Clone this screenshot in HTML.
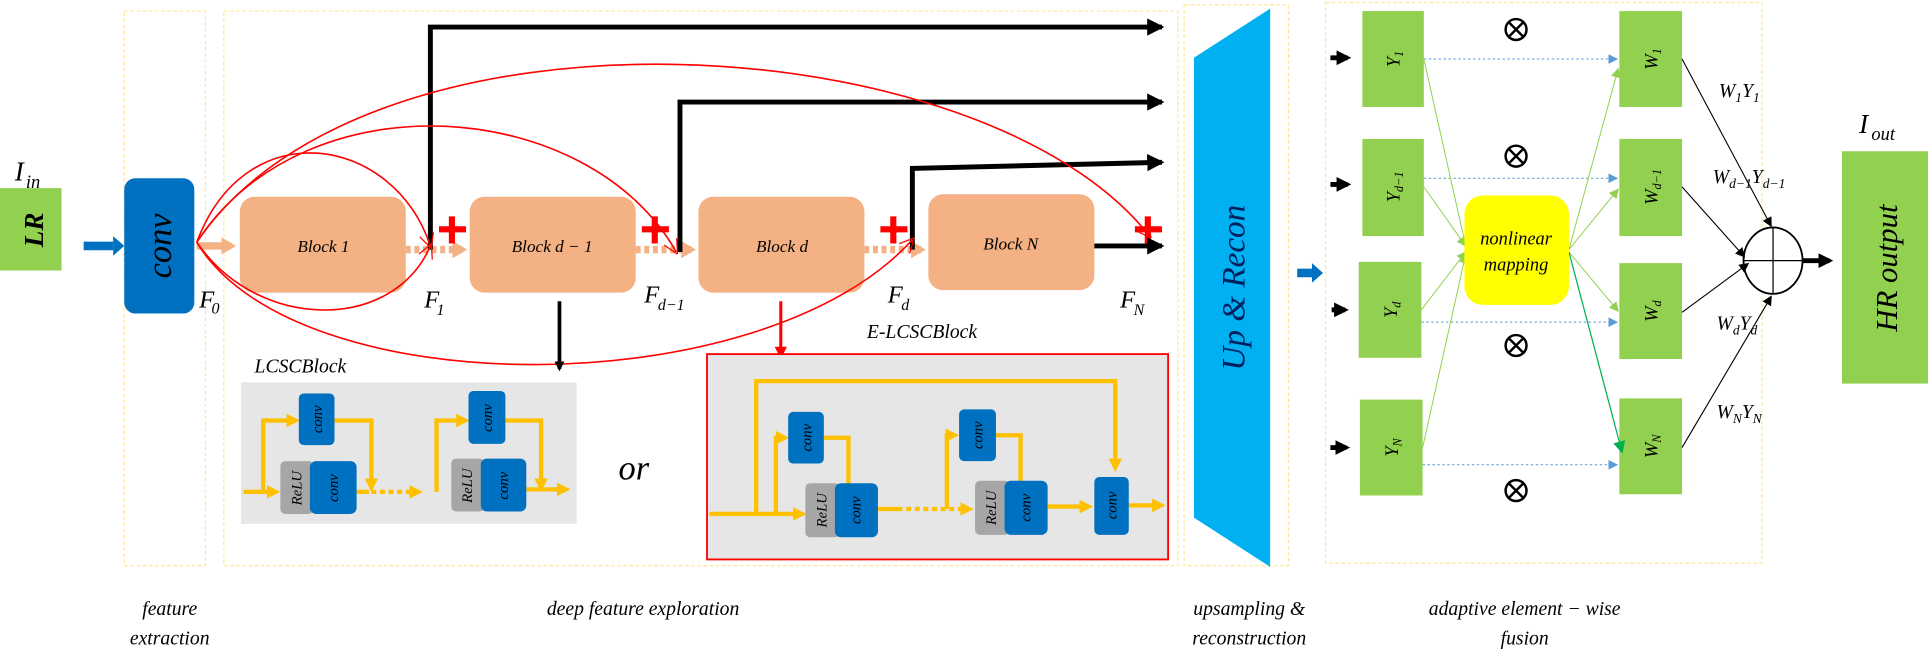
<!DOCTYPE html>
<html><head><meta charset="utf-8"><style>
html,body{margin:0;padding:0;background:#fff}
svg{display:block}
text{font-family:"Liberation Serif",serif;font-style:italic}
</style></head><body>
<svg width="1928" height="661" viewBox="0 0 1568 537.6" xmlns="http://www.w3.org/2000/svg">
<defs>
<marker id="ab" markerWidth="8" markerHeight="8" refX="6" refY="4" orient="auto" markerUnits="userSpaceOnUse"><path d="M0,0L8,4L0,8z" fill="#000"/></marker>
<marker id="ab2" markerWidth="12" markerHeight="12" refX="9" refY="6" orient="auto" markerUnits="userSpaceOnUse"><path d="M0,0L12,6L0,12z" fill="#000"/></marker>
<marker id="abig" markerWidth="14" markerHeight="14" refX="12" refY="7" orient="auto" markerUnits="userSpaceOnUse"><path d="M0,0L14,7L0,14z" fill="#000"/></marker>
<marker id="ar" markerWidth="12" markerHeight="12" refX="10" refY="6" orient="auto" markerUnits="userSpaceOnUse"><path d="M0,0L12,6L0,12" fill="none" stroke="#f00" stroke-width="1"/></marker>
<marker id="arf" markerWidth="10" markerHeight="10" refX="8" refY="5" orient="auto" markerUnits="userSpaceOnUse"><path d="M0,0L10,5L0,10z" fill="#f00"/></marker>
<marker id="ay" markerWidth="11" markerHeight="11" refX="7" refY="5.5" orient="auto" markerUnits="userSpaceOnUse"><path d="M0,0L11,5.5L0,11z" fill="#FFC000"/></marker>
<marker id="ao" markerWidth="12" markerHeight="14" refX="8" refY="7" orient="auto" markerUnits="userSpaceOnUse"><path d="M0,0L12,7L0,14z" fill="#F4B183"/></marker>
<marker id="abl" markerWidth="8" markerHeight="8" refX="7" refY="4" orient="auto" markerUnits="userSpaceOnUse"><path d="M0,0L8,4L0,8z" fill="#5B9BD5"/></marker>
<marker id="ag" markerWidth="8" markerHeight="8" refX="7" refY="4" orient="auto" markerUnits="userSpaceOnUse"><path d="M0,0L8,4L0,8z" fill="#92D050"/></marker>
<marker id="agd" markerWidth="10" markerHeight="10" refX="8" refY="5" orient="auto" markerUnits="userSpaceOnUse"><path d="M0,0L10,5L0,10z" fill="#00B050"/></marker>
<g id="otimes"><circle cx="0" cy="0" r="8.5" fill="none" stroke="#000" stroke-width="2"/><path d="M-6,-6L6,6M6,-6L-6,6" stroke="#000" stroke-width="2"/></g>
</defs>

<g fill="none" stroke="#FFE699" stroke-width="1" stroke-dasharray="3,2">
<rect x="101" y="9" width="66" height="451"/>
<rect x="182" y="9" width="776" height="451"/>
<rect x="963" y="4" width="85" height="456"/>
<rect x="1078" y="2" width="355" height="456"/>
</g>

<rect x="0" y="153" width="50" height="67" fill="#92D050"/>
<text transform="translate(35,187) rotate(-90)" font-size="22" font-weight="bold" text-anchor="middle">LR</text>
<text x="12" y="147" font-size="22">I</text><text x="21" y="153" font-size="15">in</text>
<path d="M68,200H92" stroke="#0070C0" stroke-width="7"/>
<path d="M92,192L101,200L92,208z" fill="#0070C0"/>
<rect x="101" y="145" width="57" height="110" rx="9" fill="#0070C0"/>
<text transform="translate(139,200) rotate(-90)" font-size="28" text-anchor="middle" fill="#000">conv</text>
<text x="162" y="250" font-size="20">F</text><text x="172" y="255" font-size="13">0</text>

<g fill="#F4B183">
<rect x="195" y="160" width="135" height="78" rx="12"/>
<rect x="382" y="160" width="135" height="78" rx="12"/>
<rect x="568" y="160" width="135" height="78" rx="12"/>
<rect x="755" y="158" width="135" height="78" rx="12"/>
</g>
<g font-size="14" text-anchor="middle">
<text x="263" y="205">Block 1</text>
<text x="449" y="205">Block d − 1</text>
<text x="636" y="205">Block d</text>
<text x="822" y="203">Block N</text>
</g>
<g stroke="#F4B183" stroke-width="6">
<path d="M160,200H188" marker-end="url(#ao)"/>
<path d="M330,203H376" stroke-dasharray="4,3" marker-end="url(#ao)"/>
<path d="M517,203H562" stroke-dasharray="4,3" marker-end="url(#ao)"/>
<path d="M703,203H749" stroke-dasharray="4,3" marker-end="url(#ao)"/>
</g>
<g font-size="20">
<text x="345" y="250">F</text><text x="355" y="256" font-size="13">1</text>
<text x="524" y="246">F</text><text x="535" y="252" font-size="13">d−1</text>
<text x="722" y="246">F</text><text x="733" y="252" font-size="13">d</text>
<text x="911" y="250">F</text><text x="922" y="256" font-size="13">N</text>
</g>
<g fill="#f00">
<rect x="357" y="184" width="22" height="5"/><rect x="365" y="176" width="5" height="22"/>
<rect x="522" y="184" width="22" height="5"/><rect x="530" y="176" width="5" height="22"/>
<rect x="716" y="184" width="22" height="5"/><rect x="724" y="176" width="5" height="22"/>
<rect x="923" y="184" width="22" height="5"/><rect x="931" y="176" width="5" height="22"/>
</g>

<g stroke="#000" stroke-width="4" fill="none">
<path d="M350,203V22H945" marker-end="url(#abig)"/>
<path d="M553,205V83H945" marker-end="url(#abig)"/>
<path d="M742,203V137L945,132" marker-end="url(#abig)"/>
<path d="M890,200H945" marker-end="url(#abig)"/>
</g>

<g stroke="#f00" stroke-width="1.3" fill="none">
<path d="M160,197C200,90 320,110 350,200" marker-end="url(#ar)"/>
<path d="M160,197C210,270 320,270 350,200" marker-end="url(#ar)"/>
<path d="M160,197C250,60 480,80 550,205" marker-end="url(#ar)"/>
<path d="M160,197C300,-10 800,20 935,192" marker-end="url(#ar)"/>
<path d="M160,197C240,330 620,330 742,195" marker-end="url(#ar)"/>
</g>

<path d="M455,245V300" stroke="#000" stroke-width="3" marker-end="url(#ab)"/>
<path d="M635,245V290" stroke="#f00" stroke-width="2.5" marker-end="url(#arf)"/>

<text x="705" y="275" font-size="16">E-LCSCBlock</text>
<text x="207" y="303" font-size="16">LCSCBlock</text>
<text x="503" y="390" font-size="28">or</text>

<rect x="196" y="311" width="273" height="115" fill="#E6E6E6"/>
<g stroke="#FFC000" stroke-width="3.5" fill="none">
<path d="M198,400H224" marker-end="url(#ay)"/>
<path d="M214,400V342H240" marker-end="url(#ay)"/>
<path d="M272,342H302V396" marker-end="url(#ay)"/>
<path d="M290,400H300"/>
<path d="M302,400H340" stroke-dasharray="4,3" marker-end="url(#ay)"/>
<path d="M355,400V342H378" marker-end="url(#ay)"/>
<path d="M411,342H440V396" marker-end="url(#ay)"/>
<path d="M428,398H460" marker-end="url(#ay)"/>
</g>
<rect x="243" y="320" width="29" height="42" rx="4" fill="#0070C0"/>
<rect x="228" y="375" width="27" height="43" rx="4" fill="#A6A6A6"/>
<rect x="252" y="375" width="38" height="43" rx="5" fill="#0070C0"/>
<rect x="381" y="318" width="30" height="43" rx="4" fill="#0070C0"/>
<rect x="367" y="373" width="27" height="43" rx="4" fill="#A6A6A6"/>
<rect x="391" y="373" width="37" height="43" rx="5" fill="#0070C0"/>
<g font-size="12" text-anchor="middle">
<text transform="translate(262,341) rotate(-90)">conv</text>
<text transform="translate(245,397) rotate(-90)">ReLU</text>
<text transform="translate(275,397) rotate(-90)">conv</text>
<text transform="translate(400,340) rotate(-90)">conv</text>
<text transform="translate(384,395) rotate(-90)">ReLU</text>
<text transform="translate(413,395) rotate(-90)">conv</text>
</g>

<rect x="575" y="288" width="375" height="167" fill="#E6E6E6" stroke="#f00" stroke-width="1.5"/>
<g stroke="#FFC000" stroke-width="3.5" fill="none">
<path d="M577,418H652" marker-end="url(#ay)"/>
<path d="M615,418V310H907V380" marker-end="url(#ay)"/>
<path d="M631,418V356H638" marker-end="url(#ay)"/>
<path d="M670,356H690V412" marker-end="url(#ay)"/>
<path d="M714,414H730"/>
<path d="M730,414H788" stroke-dasharray="4,3" marker-end="url(#ay)"/>
<path d="M770,414V354H776" marker-end="url(#ay)"/>
<path d="M810,354H830V406" marker-end="url(#ay)"/>
<path d="M852,412H885" marker-end="url(#ay)"/>
<path d="M918,411H944" marker-end="url(#ay)"/>
</g>
<rect x="641" y="335" width="29" height="42" rx="4" fill="#0070C0"/>
<rect x="655" y="393" width="28" height="44" rx="4" fill="#A6A6A6"/>
<rect x="679" y="393" width="35" height="44" rx="5" fill="#0070C0"/>
<rect x="780" y="333" width="30" height="42" rx="4" fill="#0070C0"/>
<rect x="793" y="391" width="28" height="44" rx="4" fill="#A6A6A6"/>
<rect x="817" y="391" width="35" height="44" rx="5" fill="#0070C0"/>
<rect x="890" y="388" width="28" height="47" rx="4" fill="#0070C0"/>
<g font-size="12" text-anchor="middle">
<text transform="translate(660,356) rotate(-90)">conv</text>
<text transform="translate(672,415) rotate(-90)">ReLU</text>
<text transform="translate(700,415) rotate(-90)">conv</text>
<text transform="translate(799,354) rotate(-90)">conv</text>
<text transform="translate(810,413) rotate(-90)">ReLU</text>
<text transform="translate(838,413) rotate(-90)">conv</text>
<text transform="translate(908,411) rotate(-90)">conv</text>
</g>

<path d="M971,47L1033,7V461L971,421z" fill="#00B0F0"/>
<text transform="translate(1012,234) rotate(-90)" font-size="27" text-anchor="middle" fill="#002060">Up &amp; Recon</text>
<path d="M1055,222H1067" stroke="#0070C0" stroke-width="7"/>
<path d="M1067,214L1076,222L1067,230z" fill="#0070C0"/>

<g fill="#92D050">
<rect x="1108" y="9" width="50" height="78"/>
<rect x="1108" y="113" width="50" height="79"/>
<rect x="1105" y="213" width="51" height="78"/>
<rect x="1106" y="325" width="51" height="78"/>
<rect x="1317" y="9" width="51" height="78"/>
<rect x="1317" y="113" width="51" height="79"/>
<rect x="1317" y="214" width="51" height="78"/>
<rect x="1317" y="324" width="51" height="78"/>
</g>
<g font-size="15" text-anchor="middle">
<text transform="translate(1138,48) rotate(-90)">Y<tspan font-size="10" dy="3">1</tspan></text>
<text transform="translate(1138,152) rotate(-90)">Y<tspan font-size="10" dy="3">d−1</tspan></text>
<text transform="translate(1136,252) rotate(-90)">Y<tspan font-size="10" dy="3">d</tspan></text>
<text transform="translate(1137,364) rotate(-90)">Y<tspan font-size="10" dy="3">N</tspan></text>
<text transform="translate(1348,48) rotate(-90)">W<tspan font-size="10" dy="3">1</tspan></text>
<text transform="translate(1348,152) rotate(-90)">W<tspan font-size="10" dy="3">d−1</tspan></text>
<text transform="translate(1348,253) rotate(-90)">W<tspan font-size="10" dy="3">d</tspan></text>
<text transform="translate(1348,363) rotate(-90)">W<tspan font-size="10" dy="3">N</tspan></text>
</g>
<g stroke="#000" stroke-width="4" fill="none">
<path d="M1082,47H1096" marker-end="url(#ab2)"/>
<path d="M1082,150H1096" marker-end="url(#ab2)"/>
<path d="M1083,252H1094" marker-end="url(#ab2)"/>
<path d="M1082,364H1095" marker-end="url(#ab2)"/>
</g>
<g stroke="#5B9BD5" stroke-width="0.8" stroke-dasharray="2,2" fill="none">
<path d="M1158,48H1315" marker-end="url(#abl)"/>
<path d="M1158,145H1315" marker-end="url(#abl)"/>
<path d="M1156,262H1315" marker-end="url(#abl)"/>
<path d="M1157,378H1315" marker-end="url(#abl)"/>
</g>
<g stroke="#92D050" stroke-width="0.8" fill="none">
<path d="M1158,48L1192,200" marker-end="url(#ag)"/>
<path d="M1158,152L1192,200" marker-end="url(#ag)"/>
<path d="M1156,252L1192,205" marker-end="url(#ag)"/>
<path d="M1157,364L1192,207" marker-end="url(#ag)"/>
<path d="M1276,203L1316,56" marker-end="url(#ag)"/>
<path d="M1276,203L1316,154" marker-end="url(#ag)"/>
<path d="M1276,205L1316,253" marker-end="url(#ag)"/>
</g>
<path d="M1276,205L1319,367" stroke="#00B050" stroke-width="1" fill="none" marker-end="url(#agd)"/>
<rect x="1191" y="159" width="85" height="89" rx="15" fill="#FFFF00"/>
<text x="1233" y="199" font-size="15" text-anchor="middle">nonlinear</text>
<text x="1233" y="220" font-size="15" text-anchor="middle">mapping</text>
<use href="#otimes" x="1233" y="24"/>
<use href="#otimes" x="1233" y="127"/>
<use href="#otimes" x="1233" y="281"/>
<use href="#otimes" x="1233" y="399"/>
<ellipse cx="1442" cy="212" rx="24" ry="27" fill="#fff" stroke="#000" stroke-width="1.5"/>
<path d="M1418,212H1466M1442,185V239" stroke="#000" stroke-width="1"/>
<g stroke="#000" stroke-width="0.9" fill="none">
<path d="M1368,48L1440,183" marker-end="url(#ab)"/>
<path d="M1368,152L1418,208" marker-end="url(#ab)"/>
<path d="M1368,254L1421,215" marker-end="url(#ab)"/>
<path d="M1368,364L1440,242" marker-end="url(#ab)"/>
</g>
<path d="M1466,212H1488" stroke="#000" stroke-width="4" marker-end="url(#ab2)"/>
<g font-size="16">
<text x="1398" y="79">W<tspan font-size="11" dy="4">1</tspan><tspan dy="-4">Y</tspan><tspan font-size="11" dy="4">1</tspan></text>
<text x="1393" y="149">W<tspan font-size="11" dy="4">d−1</tspan><tspan dy="-4">Y</tspan><tspan font-size="11" dy="4">d−1</tspan></text>
<text x="1396" y="268">W<tspan font-size="11" dy="4">d</tspan><tspan dy="-4">Y</tspan><tspan font-size="11" dy="4">d</tspan></text>
<text x="1396" y="340">W<tspan font-size="11" dy="4">N</tspan><tspan dy="-4">Y</tspan><tspan font-size="11" dy="4">N</tspan></text>
</g>
<rect x="1498" y="123" width="70" height="189" fill="#92D050"/>
<text transform="translate(1543,218) rotate(-90)" font-size="25" text-anchor="middle">HR output</text>
<text x="1512" y="108" font-size="22">I</text><text x="1522" y="114" font-size="15">out</text>

<g font-size="16" text-anchor="middle">
<text x="138" y="500">feature</text>
<text x="138" y="524">extraction</text>
<text x="523" y="500">deep feature exploration</text>
<text x="1016" y="500">upsampling &amp;</text>
<text x="1016" y="524">reconstruction</text>
<text x="1240" y="500">adaptive element − wise</text>
<text x="1240" y="524">fusion</text>
</g>
</svg>
</body></html>
